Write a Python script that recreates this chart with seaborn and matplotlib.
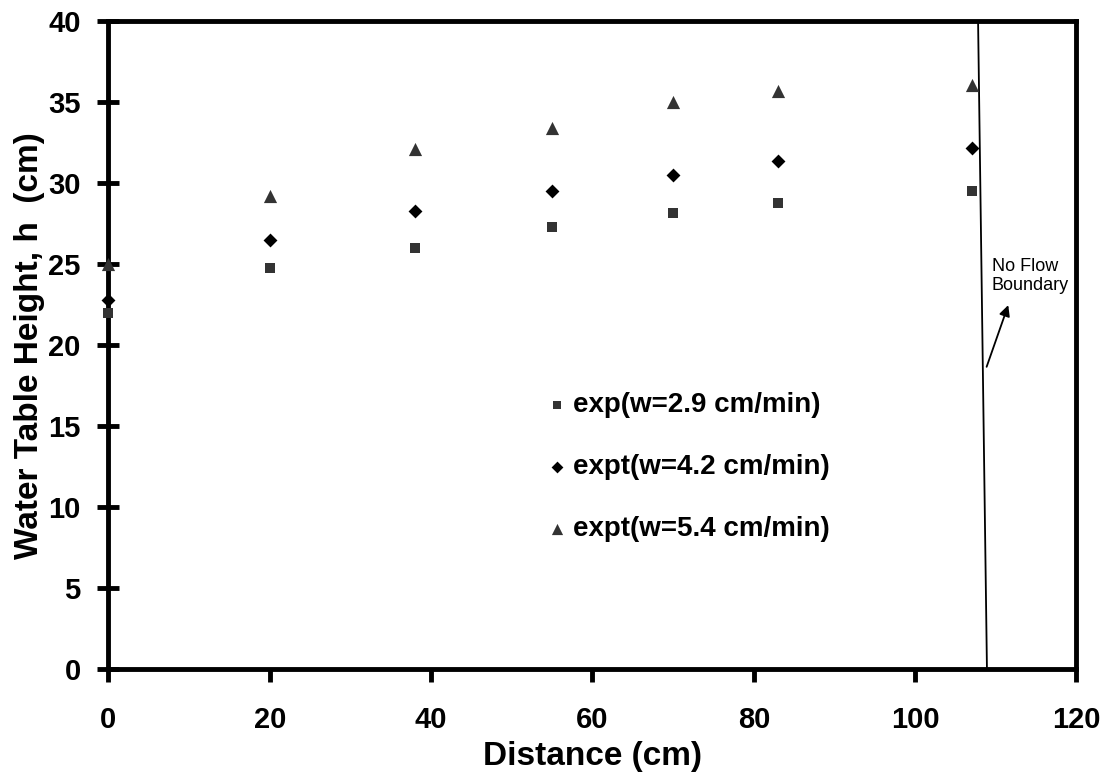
import matplotlib
matplotlib.use("Agg")
import matplotlib.pyplot as plt
import pandas as pd
import seaborn as sns

# Measured water-table heights along the flume
distance = [0, 20, 38, 55, 70, 83, 107]
h_w29 = [22.0, 24.8, 26.0, 27.3, 28.2, 28.8, 29.5]
h_w42 = [22.8, 26.5, 28.3, 29.5, 30.5, 31.4, 32.2]
h_w54 = [25.0, 29.2, 32.1, 33.4, 35.0, 35.7, 36.1]
series_labels = ["exp(w=2.9 cm/min)", "expt(w=4.2 cm/min)", "expt(w=5.4 cm/min)"]

# No-flow boundary line (slightly slanted) and its label arrow
boundary_x = [108.9, 107.8]
boundary_y = [0, 40]
arrow_tail = (108.86, 18.67)
arrow_head = (111.54, 22.48)

xticks = [0, 20, 40, 60, 80, 100, 120]
yticks = [0, 5, 10, 15, 20, 25, 30, 35, 40]

df = pd.concat([
    pd.DataFrame({"Distance": distance, "h": vals, "series": lab})
    for vals, lab in zip([h_w29, h_w42, h_w54], series_labels)
], ignore_index=True)

sns.set_theme(style="white")
plt.rcParams["font.family"] = ["Liberation Sans", "DejaVu Sans"]
plt.rcParams["text.color"] = "black"
plt.rcParams["axes.labelcolor"] = "black"
plt.rcParams["xtick.color"] = "black"
plt.rcParams["ytick.color"] = "black"

fig = plt.figure(figsize=(11.16, 7.78), dpi=100)
ax = fig.add_axes([0.0972, 0.140, 0.8674, 0.8324])

palette = {series_labels[0]: "#333333", series_labels[1]: "#000000", series_labels[2]: "#333333"}
markers = {series_labels[0]: "s", series_labels[1]: "D", series_labels[2]: "^"}
sizes = {series_labels[0]: 55, series_labels[1]: 50, series_labels[2]: 90}

for lab in series_labels:
    sub = df[df["series"] == lab]
    sns.scatterplot(data=sub, x="Distance", y="h", ax=ax, color=palette[lab],
                    marker=markers[lab], s=sizes[lab], linewidth=0, label=lab,
                    zorder=5, clip_on=False)

ax.plot(boundary_x, boundary_y, color="black", linewidth=1.3, zorder=2)
ax.annotate("", xy=arrow_head, xytext=arrow_tail,
            arrowprops=dict(arrowstyle="-|>", color="black", lw=1.3,
                            mutation_scale=16, shrinkA=0, shrinkB=0))
ax.text(109.5, 23.15, "No Flow\nBoundary", fontsize=13, ha="left", va="bottom",
        linespacing=1.2, color="black")

ax.set_xlim(0, 120)
ax.set_ylim(0, 40)
ax.set_xticks(xticks)
ax.set_yticks(yticks)
ax.set_xticklabels([str(v) for v in xticks], fontsize=21, fontweight="bold")
ax.set_yticklabels([str(v) for v in yticks], fontsize=21, fontweight="bold")
ax.tick_params(axis="x", direction="out", length=9.5, width=3.5, pad=17,
               bottom=True)
ax.tick_params(axis="y", direction="inout", length=16, width=3.5, pad=12,
               left=True)

for sp in ax.spines.values():
    sp.set_visible(True)
    sp.set_color("black")
    sp.set_linewidth(3.5)
    sp.set_zorder(4)

ax.set_xlabel("Distance (cm)", fontsize=24, fontweight="bold", labelpad=5)
ax.set_ylabel("Water Table Height, h  (cm)", fontsize=24, fontweight="bold", labelpad=2)
ax.grid(False)

handles, labels = ax.get_legend_handles_labels()
ax.legend(handles, labels, loc="center left", bbox_to_anchor=(0.455, 0.312),
          frameon=False, borderpad=0, borderaxespad=0, handlelength=0.6,
          handletextpad=0.25, labelspacing=1.3, markerscale=0.85,
          prop={"size": 20, "weight": "bold"})

fig.savefig("out.png", dpi=100, facecolor="white")
